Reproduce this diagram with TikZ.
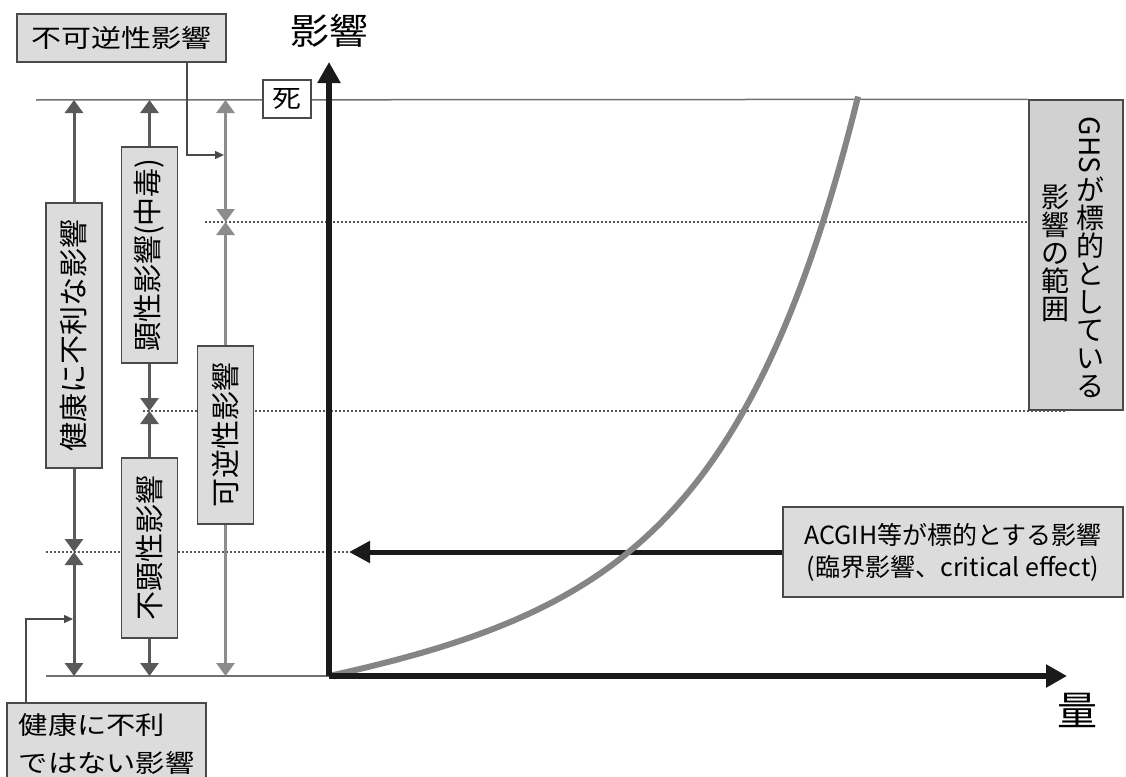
\documentclass[tikz,border=0pt]{standalone}
\usepackage{fontspec}
\setmainfont{Noto Sans CJK JP}
\usepackage{graphicx}
\usetikzlibrary{arrows.meta}
\definecolor{boxfill}{HTML}{DCDCDC}
\definecolor{boxline}{HTML}{4A4A4A}
\definecolor{darkcol}{HTML}{595959}
\definecolor{lightcol}{HTML}{8C8C8C}
\definecolor{curvecol}{HTML}{858585}
\definecolor{axiscol}{HTML}{1A1A1A}
\definecolor{dotcol}{HTML}{555555}
\definecolor{topcol}{HTML}{707070}
\newcommand{\hwide}[2][1.2]{\scalebox{#1}[1]{#2}}
\newcommand{\ghsfont}{\fontsize{28}{28}\selectfont\setlength{\lineskiplimit}{-20pt}}
\tikzset{
  box/.style={draw=boxline, line width=1.4pt, fill=boxfill, inner sep=0pt, align=center},
  vbox/.style={box, rotate=90, font=\fontsize{29}{30}\selectfont, minimum height=56pt},
  colline/.style={line width=3pt},
  tipone/.style={-{Triangle[length=13pt,width=18pt]}},
  tipboth/.style={{Triangle[length=13pt,width=18pt]}-{Triangle[length=13pt,width=18pt]}},
  dots/.style={draw=dotcol, line width=1.5pt, dash pattern=on 1.5pt off 2.5pt},
  axis/.style={line width=6pt, draw=axiscol, -{Triangle[length=21pt,width=22pt]}},
  conn/.style={draw=boxline, line width=1.4pt, -{Triangle[length=9pt,width=8pt]}},
  ghst/.style={inner sep=0pt, align=center, font=\ghsfont},
}
\begin{document}
\begin{tikzpicture}[x=1pt,y=-1pt]
\useasboundingbox (0,0) rectangle (1126,776);

% coordinates
\coordinate (topL) at (36,100);
\coordinate (baseL) at (46,676);
\coordinate (origin) at (329,676);
\coordinate (ytip) at (329,62);
\coordinate (xtip) at (1067,676);
\coordinate (c1top) at (74,100);
\coordinate (c1mid) at (74,552);
\coordinate (c1bot) at (74,676);
\coordinate (c2top) at (149.5,100);
\coordinate (c2mid) at (149.5,411);
\coordinate (c2bot) at (149.5,676);
\coordinate (c3top) at (225.5,100);
\coordinate (c3mid) at (225.5,222);
\coordinate (c3bot) at (225.5,676);
\coordinate (d1L) at (205,222);
\coordinate (d2L) at (143,411);
\coordinate (d2R) at (1067,411);
\coordinate (d3L) at (46,552);
\coordinate (acgtip) at (349,552);
\coordinate (irrbend) at (187,155);
\coordinate (irrtip) at (224,155);
\coordinate (okbend) at (26,619);
\coordinate (oktip) at (73,619);

% right side box
\node[box, minimum width=94pt, minimum height=310pt, fill=boxfill!95!black] (ghs) at (1076,255) {};
\node[ghst, rotate=-90] (ghsA) at (1090,145) {GHS};
\node[ghst] (ghsB) at (1090,287) {が\\標\\的\\と\\し\\て\\い\\る};
\node[ghst] (ghsC) at (1055,253) {影\\響\\の\\範\\囲};

% top and base lines
\draw[topcol, line width=1.5pt] (topL) -- (ghs.north west);
\draw[topcol, line width=1.5pt] (baseL) -- (origin);

% dotted lines
\draw[dots] (d1L) -- (d1L -| ghs.west);
\draw[dots] (d2L) -- (d2R);
\draw[dots] (d3L) -- (acgtip);

% ACGIH box and arrow
\node[box, minimum width=340pt, minimum height=90pt, font=\fontsize{25}{32}\selectfont] (acgih) at (953,552)
  {ACGIH等が標的とする影響\\(臨界影響、critical effect)};
\draw[line width=5pt, draw=axiscol, -{Triangle[length=21pt,width=21pt]}] (acgih.west) -- (acgtip);

% curve
\draw[curvecol, line width=6pt] plot[domain=0:529, samples=80, smooth]
  ({329+\x},{676-(0.22*\x+8.6*(exp(0.0077*\x)-1-0.0077*\x))});

% axes
\draw[axis] (origin) -- (ytip);
\draw[axis] (origin) -- (xtip);
\node[font=\fontsize{36}{36}\selectfont, inner sep=0pt] (ylabel) at (329,31) {\hwide[1.08]{影響}};
\node[font=\fontsize{40}{40}\selectfont, inner sep=0pt] (xlabel) at (1077,710) {量};

% death box
\node[box, fill=white, minimum width=48pt, minimum height=38pt, font=\fontsize{25}{25}\selectfont] (shi) at (287,99) {\hwide[1.15]{死}};

% vertical label boxes
\node[vbox, minimum width=265pt] (kenkou) at (74,335.5) {健康に不利な影響};
\node[vbox, minimum width=216pt] (kensei) at (149.5,255) {顕性影響(中毒)};
\node[vbox, minimum width=180pt] (fukensei) at (149.5,548) {不顕性影響};
\node[vbox, minimum width=178pt] (kagyaku) at (225.5,435) {可逆性影響};

% column 1
\draw[colline, darkcol, tipone] (kenkou.east) -- (c1top);
\draw[colline, darkcol, tipone] (kenkou.west) -- (c1mid);
\draw[colline, darkcol, tipboth] (c1mid) -- (c1bot);
% column 2
\draw[colline, darkcol, tipone] (kensei.east) -- (c2top);
\draw[colline, darkcol, tipone] (kensei.west) -- (c2mid);
\draw[colline, darkcol, tipone] (fukensei.east) -- (c2mid);
\draw[colline, darkcol, tipone] (fukensei.west) -- (c2bot);
% column 3
\draw[colline, lightcol, tipboth] (c3top) -- (c3mid);
\draw[colline, lightcol, tipone] (kagyaku.east) -- (c3mid);
\draw[colline, lightcol, tipone] (kagyaku.west) -- (c3bot);

% callout boxes
\node[box, minimum width=209pt, minimum height=48pt, font=\fontsize{25}{25}\selectfont] (fukagyaku) at (121.5,38) {\hwide{不可逆性影響}};
\draw[conn] (fukagyaku.south -| irrbend) |- (irrtip);

\node[box, minimum width=199pt, minimum height=82pt, align=left, font=\fontsize{25}{38}\selectfont] (okbox) at (106.5,744)
  {\hwide[1.17]{健康に不利}\\\hwide[1.17]{ではない影響}};
\draw[conn] (okbox.north -| okbend) |- (oktip);
\end{tikzpicture}
\end{document}
